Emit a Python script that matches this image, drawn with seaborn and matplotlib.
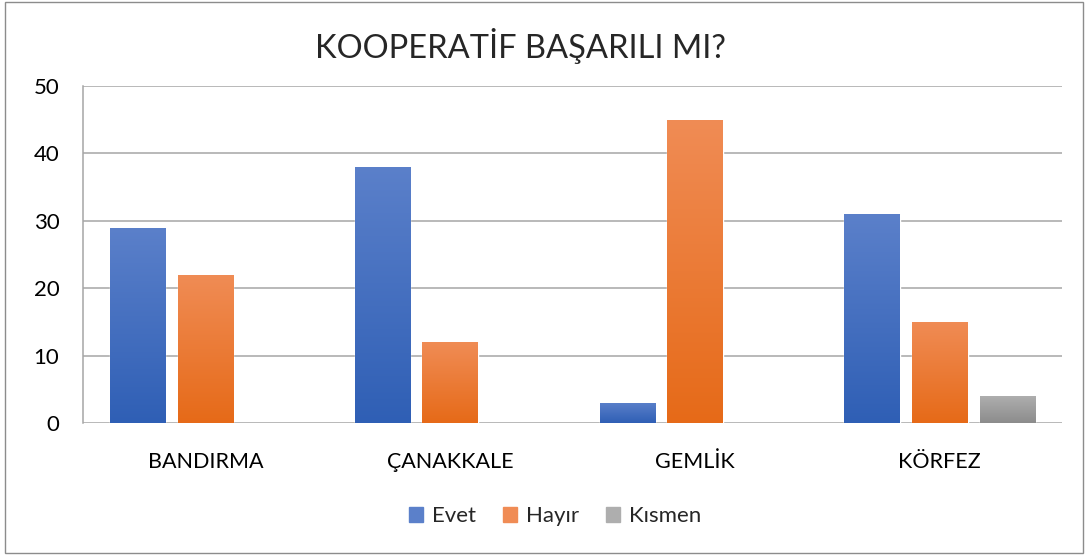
import numpy as np
import pandas as pd
import matplotlib.pyplot as plt
import seaborn as sns
from matplotlib.colors import LinearSegmentedColormap
from matplotlib.patches import Rectangle

# data
cities = ["BANDIRMA", "ÇANAKKALE", "GEMLİK", "KÖRFEZ"]
answers = ["Evet", "Hayır", "Kısmen"]
evet = [29, 38, 3, 31]
hayir = [22, 12, 45, 15]
kismen = [0, 0, 0, 4]

df = pd.DataFrame({
    "city": cities * 3,
    "answer": [answers[0]] * 4 + [answers[1]] * 4 + [answers[2]] * 4,
    "value": evet + hayir + kismen,
})

colors = {"Evet": "#4472C4", "Hayır": "#ED7D31", "Kısmen": "#A5A5A5"}
grad = {
    "Evet": ("#2F5FB5", "#5B80CA"),
    "Hayır": ("#E66A18", "#F08C55"),
    "Kısmen": ("#8C8C8C", "#AEAEAE"),
}

sns.set_style("white")
plt.rcParams["font.family"] = ["Lato", "DejaVu Sans"]

fig = plt.figure(figsize=(10.88, 5.55), dpi=100)
ax = fig.add_axes([0.0763, 0.238, 0.9, 0.607])

sns.barplot(data=df, x="city", y="value", hue="answer", palette=colors,
            width=0.83, gap=0.18, ax=ax, legend=False, zorder=3)

# gradient fill on each bar
for container, name in zip(ax.containers, answers):
    cmap = LinearSegmentedColormap.from_list(name, grad[name])
    for bar in container:
        h = bar.get_height()
        if h <= 0:
            bar.set_visible(False)
            continue
        x0, w = bar.get_x(), bar.get_width()
        # soft shadow
        ax.add_patch(Rectangle((x0 + 0.004, 0), w, h - 0.15, color="#000000",
                               alpha=0.12, zorder=2, lw=0))
        img = ax.imshow(np.linspace(0, 1, 256).reshape(-1, 1), cmap=cmap,
                        extent=[x0, x0 + w, 0, h], aspect="auto", zorder=3,
                        origin="lower")
        img.set_clip_path(bar)

ax.set_xlim(-0.5, 3.5)
ax.set_ylim(0, 50)
ax.set_yticks(range(0, 51, 10))
ax.yaxis.grid(True, color="#A6A6A6", lw=1.1, zorder=0)
ax.set_axisbelow(True)
for s in ax.spines.values():
    s.set_visible(False)
ax.spines["left"].set_visible(True)
ax.spines["left"].set_color("#A6A6A6")
ax.spines["left"].set_linewidth(1.1)
ax.tick_params(axis="y", length=0, labelsize=16, pad=17, colors="#000000")
ax.tick_params(axis="x", length=0, labelsize=15.5, pad=21, colors="#000000")
ax.set_xlabel("")
ax.set_ylabel("")

fig.text(0.478, 0.918, "KOOPERATİF BAŞARILI MI?", ha="center", va="center",
         fontsize=23.5)

handles = [Rectangle((0, 0), 1, 1, color=grad[a][1]) for a in answers]
fig.legend(handles, answers, loc="center", bbox_to_anchor=(0.51, 0.07),
           ncol=3, frameon=False, fontsize=16, handlelength=0.65,
           handleheight=0.65, handletextpad=0.4, columnspacing=1.2)

fig.add_artist(Rectangle((0.005, 0.004), 0.99, 0.992, transform=fig.transFigure,
                         fill=False, edgecolor="#8C8C8C", lw=1))

fig.savefig("out.png", dpi=100)
